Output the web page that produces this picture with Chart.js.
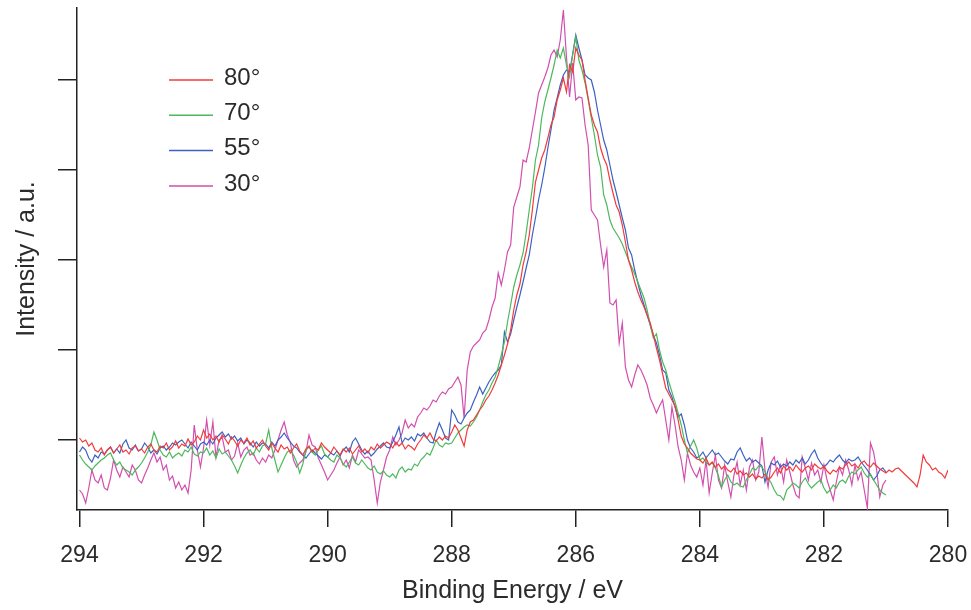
<!DOCTYPE html>
<html>
<head>
<meta charset="utf-8">
<script src="https://cdn.jsdelivr.net/npm/chart.js"></script>
<style>
  html, body { margin: 0; padding: 0; background: #fff; }
  canvas { display: block; }
</style>
</head>
<body>
<canvas id="xpsChart" width="971" height="610"></canvas>
<script>
// --- C1s spectra at several take-off angles ---
const startEnergy = 294.0;   // eV, first point of every series
const energyStep = 0.05;     // eV between points

const xTicks = [294, 292, 290, 288, 286, 284, 282, 280];
const yTicks = [70, 160, 250, 340, 430];   // unlabelled intensity ticks

const seriesLabels = ['80°', '70°', '55°', '30°'];
const seriesColors = ['#f23b3b', '#4cb95c', '#3b62c2', '#d24fae'];

// 80 deg, 294.0 -> 280.0 eV
const int80 = [
  72,68,70,64,67,60,58,62,55,60,63,57,61,65,58,60,56,62,64,59,   // 294
  61,57,63,66,60,58,64,62,67,60,63,69,62,66,64,71,65,68,74,70,   // 293
  80,72,76,70,74,68,75,71,66,73,69,64,70,67,72,65,69,62,66,70,   // 292
  64,60,67,62,58,65,61,63,57,62,66,59,55,61,64,58,62,60,67,63,   // 291
  60,57,63,59,55,61,58,62,56,60,64,58,61,57,63,60,66,62,65,68,   // 290
  66,62,68,64,67,61,65,63,60,66,70,75,72,77,71,69,73,70,74,72,   // 289
  78,85,80,72,64,80,88,90,95,100,104,110,114,120,127,135,145,155,166,180,   // 288
  200,215,226,245,258,275,300,328,340,352,360,372,385,393,410,420,432,418,445,438,   // 287
  462,455,450,430,412,395,385,378,362,352,345,330,317,305,298,285,268,250,240,228,   // 286
  218,210,203,195,187,175,162,150,136,122,116,110,104,90,74,66,62,57,54,51,   // 285
  50,47,52,45,48,43,46,41,44,40,38,42,36,39,35,37,33,36,31,34,   // 284
  32,36,30,33,38,42,37,44,40,43,39,45,41,38,42,44,40,46,43,41,   // 283
  44,39,36,40,38,43,41,45,48,44,46,42,47,49,45,43,47,44,41,39,   // 282
  37,40,38,41,42,39,36,33,30,27,23,35,55,48,45,40,42,38,36,32,   // 281
  40
];

// 70 deg, 294.0 -> 281.0 eV
const int70 = [
  55,50,46,43,40,44,47,50,52,55,57,50,45,48,42,40,38,35,40,43,
  47,52,58,65,78,70,60,55,53,58,52,55,57,54,60,58,63,56,54,58,
  57,62,55,59,52,61,56,58,54,50,44,37,45,52,57,60,55,62,58,64,
  66,80,62,50,38,45,52,58,60,55,48,37,46,60,63,58,55,60,64,56,
  53,50,48,55,52,46,43,48,53,47,45,50,46,42,40,44,38,36,39,35,
  33,36,32,40,43,38,41,40,46,44,50,53,57,55,62,70,65,63,67,66,
  67,72,77,80,83,85,84,88,93,100,108,115,120,127,133,143,155,168,188,205,
  223,235,245,257,277,300,322,350,365,392,408,420,432,445,460,452,462,445,433,455,
  473,450,440,427,410,392,375,355,343,315,305,290,282,277,272,266,258,250,243,236,
  228,220,212,200,185,172,176,160,148,140,128,118,108,97,85,70,57,64,70,62,
  50,52,48,45,47,42,34,23,30,35,28,25,27,24,23,30,36,42,40,44,
  43,38,32,27,20,15,14,10,20,23,27,25,22,28,32,26,22,25,28,30,
  22,17,20,25,22,28,30,27,34,38,36,40,43,37,33,36,30,25,20,17,
  15
];

// 55 deg, 294.0 -> 281.0 eV
const int55 = [
  58,63,60,52,48,55,52,58,56,60,63,57,61,57,66,70,62,60,65,59,
  61,67,63,57,60,56,62,64,60,63,67,65,68,70,66,62,68,64,60,66,
  68,65,70,66,72,75,78,73,76,71,74,69,72,66,70,67,63,68,64,67,
  66,62,68,64,70,73,77,72,68,64,62,58,55,52,56,60,57,54,51,55,
  53,57,55,59,54,60,63,58,68,72,66,60,56,59,54,57,61,64,67,63,
  62,68,75,83,67,72,70,73,69,76,74,77,72,68,67,78,87,80,72,70,
  100,95,88,86,92,97,100,108,115,123,116,122,128,133,137,140,145,178,168,176,
  190,203,215,228,242,255,275,292,310,325,342,362,380,400,412,425,435,440,438,456,
  475,462,450,435,432,430,418,400,385,370,360,345,330,318,305,292,280,262,255,240,
  227,215,205,195,185,175,167,155,140,137,120,113,103,93,96,85,70,62,58,52,
  54,58,52,56,60,55,57,53,49,46,51,50,58,62,55,49,52,48,50,47,
  44,28,40,47,45,49,43,46,44,48,45,50,47,52,46,50,56,60,52,47,
  43,46,50,48,52,55,50,47,51,49,50,53,48,44,40,35,30,34,40,42,
  38
];

// 30 deg, 294.0 -> 281.0 eV
const int30 = [
  20,16,7,22,40,30,27,35,22,20,32,50,40,33,43,38,33,45,40,30,
  27,35,42,50,57,48,53,40,45,30,34,22,28,20,25,17,40,85,60,43,
  62,90,65,88,53,70,73,58,60,50,54,67,53,60,63,55,57,50,46,52,
  48,55,52,60,70,80,88,75,67,50,43,47,50,58,75,65,63,52,45,38,
  30,35,40,47,53,45,50,42,55,48,60,56,52,53,50,30,7,28,40,53,
  60,73,65,70,77,90,82,86,83,93,97,102,100,104,110,108,114,118,116,121,
  123,128,133,125,92,140,158,164,167,170,177,180,190,203,212,237,225,240,258,265,
  303,313,323,350,348,362,380,398,417,425,433,442,455,460,453,470,500,453,413,447,
  410,413,412,385,365,300,295,290,265,243,260,207,205,210,167,187,143,130,123,135,
  145,140,133,125,112,105,97,104,110,90,70,103,85,63,50,30,57,45,38,33,
  42,25,50,17,37,55,30,22,45,28,13,35,48,25,40,20,43,50,30,38,
  73,40,23,48,53,35,45,28,50,38,25,15,12,53,42,30,47,35,40,28,
  45,30,20,10,28,43,35,50,40,25,45,30,38,20,2,67,58,40,13,25,
  30
];

const textColor = '#2b2b2b';
const axisColor = '#222';
const fontFace = "'Liberation Sans', Arial, sans-serif";

function toPoints(values) {
  // pair each intensity with its binding energy on the spectrometer grid
  return values.map((v, i) => ({x: +(startEnergy - i * energyStep).toFixed(2), y: v}));
}

const allSeries = [int80, int70, int55, int30];
const datasets = allSeries.map((vals, i) => ({
  label: seriesLabels[i],
  data: toPoints(vals),
  borderColor: seriesColors[i],
  borderWidth: 1.2,
  pointRadius: 0,
  tension: 0,
  fill: false
}));

// simple legend drawn in the upper-left of the plot, like the original
const angleLegend = {
  id: 'angleLegend',
  afterDatasetsDraw(chart) {
    const ctx = chart.ctx;
    ctx.save();
    chart.data.datasets.forEach((ds, i) => {
      const y = 80 + i * 35.3;
      ctx.strokeStyle = ds.borderColor;
      ctx.lineWidth = 1.5;
      ctx.beginPath();
      ctx.moveTo(169, y);
      ctx.lineTo(213, y);
      ctx.stroke();
      ctx.fillStyle = textColor;
      ctx.font = '24px ' + fontFace;
      ctx.textBaseline = 'middle';
      ctx.textAlign = 'left';
      ctx.fillText(ds.label, 224, y - 2);
    });
    ctx.restore();
  }
};

const ctx = document.getElementById('xpsChart').getContext('2d');
new Chart(ctx, {
  type: 'line',
  data: {datasets: datasets},
  plugins: [angleLegend],
  options: {
    responsive: false,
    animation: false,
    layout: {padding: {top: 8, right: 23, left: 0, bottom: 0}},
    plugins: {legend: {display: false}, tooltip: {enabled: false}},
    scales: {
      x: {
        type: 'linear',
        reverse: true,
        min: 280,
        max: 294.04,
        afterBuildTicks: (scale) => { scale.ticks = xTicks.map(v => ({value: v})); },
        afterFit: (scale) => { scale.height = 100; scale.paddingLeft = 0; scale.paddingRight = 0; },
        grid: {drawOnChartArea: false, drawTicks: true, tickLength: 17, color: axisColor, lineWidth: 1.5},
        border: {display: true, color: axisColor, width: 1.5},
        ticks: {color: textColor, font: {family: fontFace, size: 23}, padding: 15, maxRotation: 0,
                callback: (v) => String(v)},
        title: {display: true, text: 'Binding Energy / eV', color: textColor,
                font: {family: fontFace, size: 25}, padding: {top: 0, bottom: 4}}
      },
      y: {
        min: 0,
        max: 502,
        afterBuildTicks: (scale) => { scale.ticks = yTicks.map(v => ({value: v})); },
        afterFit: (scale) => { scale.width = 77; },
        grid: {drawOnChartArea: false, drawTicks: true, tickLength: 19, color: axisColor, lineWidth: 1.5},
        border: {display: true, color: axisColor, width: 1.5},
        ticks: {display: false},
        title: {display: true, text: 'Intensity / a.u.', color: textColor,
                font: {family: fontFace, size: 25}, padding: {top: 12, bottom: 0}}
      }
    }
  }
});
</script>
</body>
</html>
